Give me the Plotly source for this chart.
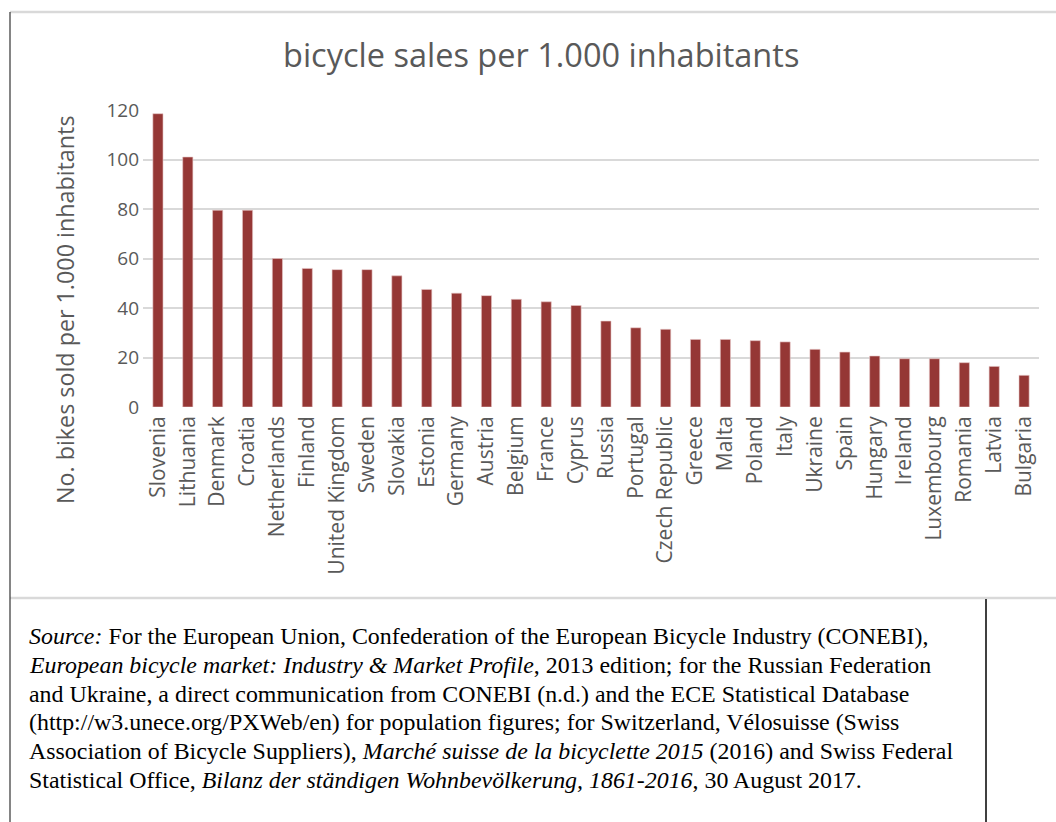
import plotly.graph_objects as go

countries = ["Slovenia", "Lithuania", "Denmark", "Croatia", "Netherlands", "Finland",
             "United Kingdom", "Sweden", "Slovakia", "Estonia", "Germany", "Austria",
             "Belgium", "France", "Cyprus", "Russia", "Portugal", "Czech Republic",
             "Greece", "Malta", "Poland", "Italy", "Ukraine", "Spain", "Hungary",
             "Ireland", "Luxembourg", "Romania", "Latvia", "Bulgaria"]
sales = [118.5, 101, 79.5, 79.5, 60, 56, 55.5, 55.5, 53, 47.5, 46, 45, 43.5, 42.5, 41,
         34.7, 32, 31.4, 27.3, 27.3, 26.8, 26.3, 23.3, 22.2, 20.6, 19.5, 19.5, 17.9, 16.4, 12.8]
y_ticks = [0, 20, 40, 60, 80, 100, 120]

title_text = "bicycle sales per 1.000 inhabitants"
y_title = "No. bikes sold per 1.000 inhabitants"
source_lines = [
    "<i>Source:</i> For the European Union, Confederation of the European Bicycle Industry (CONEBI),",
    "<i>European bicycle market: Industry &amp; Market Profile</i>, 2013 edition; for the Russian Federation",
    "and Ukraine, a direct communication from CONEBI (n.d.) and the ECE Statistical Database",
    "(http://w3.unece.org/PXWeb/en) for population figures; for Switzerland, Vélosuisse (Swiss",
    "Association of Bicycle Suppliers), <i>Marché suisse de la bicyclette 2015</i> (2016) and Swiss Federal",
    "Statistical Office, <i>Bilanz der ständigen Wohnbevölkerung, 1861-2016</i>, 30 August 2017.",
]

W, H = 1056, 822
def px(x):
    return x / W
def py(y):
    return 1 - y / H

font_sans = "'Open Sans', Lato, sans-serif"
grey = "#595959"

fig = go.Figure(go.Bar(
    x=countries, y=sales,
    marker=dict(color="#953735", line=dict(color="#e8c8c8", width=0.6)),
    width=0.34,
))

fig.update_layout(
    width=W, height=H,
    margin=dict(l=0, r=0, t=0, b=0, pad=0, autoexpand=False),
    paper_bgcolor="white", plot_bgcolor="white",
    showlegend=False,
    font=dict(family=font_sans, color=grey),
    xaxis=dict(domain=[px(143), px(1039)], tickangle=-90, tickfont=dict(size=21, color=grey),
               showgrid=False, showline=False, ticks="", ticklabelstandoff=4, fixedrange=True,
               automargin=False),
    yaxis=dict(domain=[py(407), py(110)], range=[0, 120], tickvals=y_ticks,
               tickfont=dict(size=19, color=grey), showgrid=True, gridcolor="#d9d9d9",
               gridwidth=1.5, zeroline=False, showline=False, ticks="", ticklabelstandoff=3,
               fixedrange=True, automargin=False),
)

annotations = [
    dict(text=title_text, x=px(541), y=py(55), xref="paper", yref="paper",
         showarrow=False, xanchor="center", yanchor="middle",
         font=dict(size=32.5, color=grey, family=font_sans)),
    dict(text=y_title, x=px(65), y=py(310), xref="paper", yref="paper",
         showarrow=False, xanchor="center", yanchor="middle", textangle=-90,
         font=dict(size=23.3, color=grey, family=font_sans)),
]
for i, line in enumerate(source_lines):
    annotations.append(dict(
        text=line, x=px(27), y=py(636 + i * 28.8), xref="paper", yref="paper",
        showarrow=False, xanchor="left", yanchor="middle", align="left",
        font=dict(size=23.9, color="black", family="'Liberation Serif', 'Times New Roman', serif")))
fig.update_layout(annotations=annotations)

shapes = [
    dict(type="line", xref="paper", yref="paper", x0=px(10), x1=1, y0=py(12), y1=py(12),
         line=dict(color="#d9d9d9", width=2.5)),
    dict(type="line", xref="paper", yref="paper", x0=px(10), x1=1, y0=py(598), y1=py(598),
         line=dict(color="#d9d9d9", width=2.5)),
    dict(type="line", xref="paper", yref="paper", x0=px(10), x1=px(10), y0=py(12), y1=0,
         line=dict(color="#333333", width=1.2)),
    dict(type="line", xref="paper", yref="paper", x0=px(986), x1=px(986), y0=py(599), y1=0,
         line=dict(color="black", width=1.5)),
]
fig.update_layout(shapes=shapes)

fig.write_html("out.html", config={"displayModeBar": False},
               post_script="document.body.style.margin='0';document.body.style.overflow='hidden';")
